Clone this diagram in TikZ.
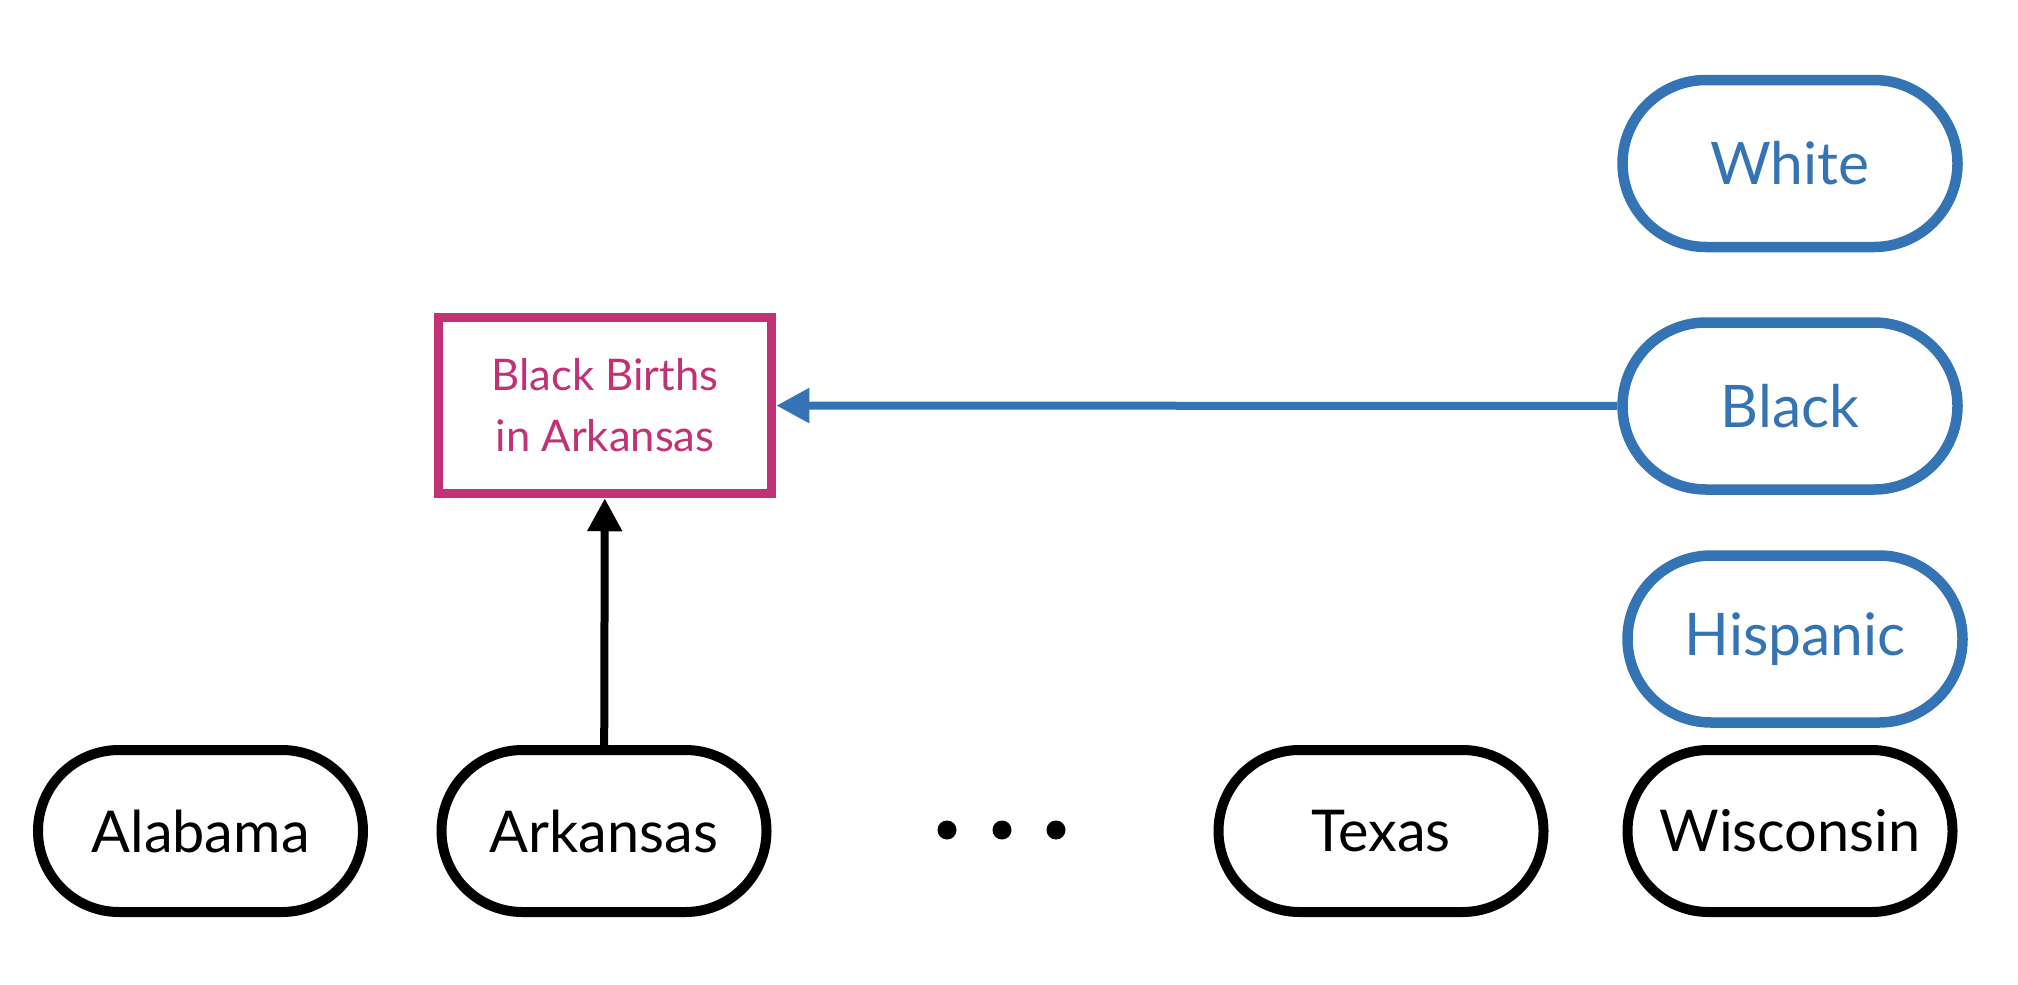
\documentclass[tikz,border=0pt]{standalone}
\usepackage{fontspec}
\setmainfont{Lato}
\usetikzlibrary{arrows.meta}
\definecolor{births}{RGB}{192,50,117}
\definecolor{race}{RGB}{52,116,181}
\tikzset{
	state/.style={draw=black,line width=1mm,rounded corners=0.81cm,minimum width=3.25cm,minimum height=1.62cm,font=\fontsize{16.4}{20}\selectfont},
	group/.style={draw=race,text=race,line width=1.05mm,rounded corners=0.835cm,minimum width=3.35cm,minimum height=1.67cm,font=\fontsize{16.7}{20}\selectfont},
	target/.style={draw=births,text=births,line width=0.95mm,minimum width=3.33cm,minimum height=1.76cm,align=center,font=\fontsize{12.4}{17.3}\selectfont}
}
\begin{document}
\begin{tikzpicture}
			\useasboundingbox (0,0) rectangle (20.18,-9.84);
			\node[state] (alabama) at (2.005,-8.31) {Alabama};
			\node[state] (arkansas) at (6.04,-8.31) {Arkansas};
			\node[state] (texas) at (13.81,-8.31) {Texas};
			\node[state] (wisconsin) at (17.9,-8.31) {Wisconsin};
			\foreach \x in {9.47,10.02,10.56}{
				\fill (\x,-8.30) circle (0.095);
			}
			\node[group] (white) at (17.9,-1.635) {White};
			\node[group] (black) at (17.9,-4.06) {Black};
			\node[group] (hispanic) at (17.95,-6.39) {Hispanic};
			\node[target] (births) at (6.05,-4.055) {Black Births\\in Arkansas};
			\draw [-{Triangle[length=3.3mm,width=3.3mm]},line width=0.8mm] (arkansas)--(births);
			\draw [-{Triangle[length=3.3mm,width=3.3mm]},line width=0.8mm,color=race] (black)--(births);
			\end{tikzpicture}
\end{document}
